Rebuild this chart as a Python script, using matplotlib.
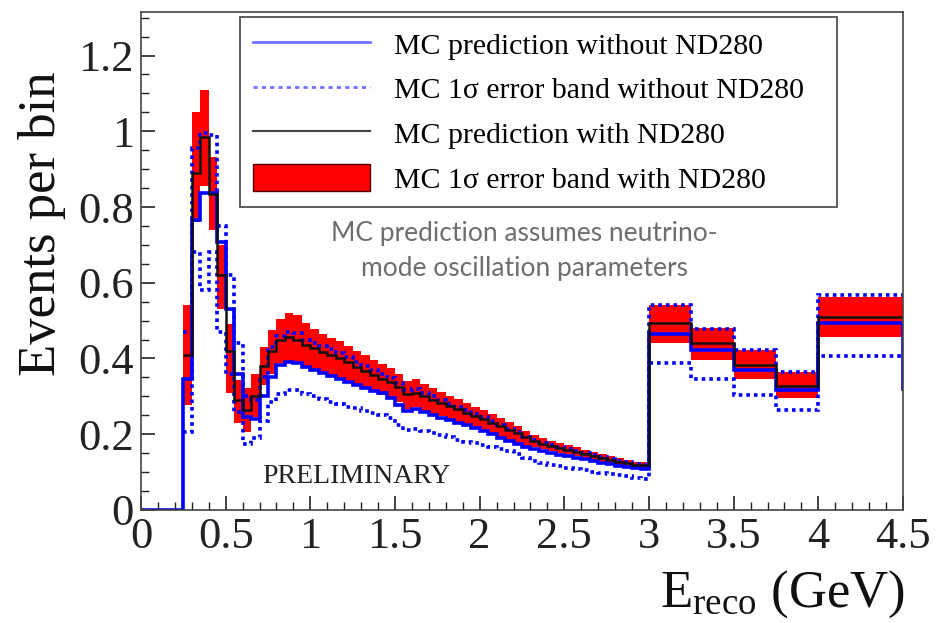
import numpy as np
import matplotlib
matplotlib.use("Agg")
import matplotlib.pyplot as plt
from matplotlib.lines import Line2D
from matplotlib.patches import Patch
from matplotlib.ticker import MultipleLocator, FuncFormatter

plt.rcParams['font.family'] = ['Liberation Serif', 'DejaVu Serif']
plt.rcParams['mathtext.fontset'] = 'custom'
plt.rcParams['mathtext.rm'] = 'Liberation Serif'
plt.rcParams['mathtext.it'] = 'Liberation Serif:italic'

# reconstructed energy binning (GeV): 50 MeV bins up to 3 GeV, then wide bins
edges = list(np.round(np.arange(0.25, 3.0001, 0.05), 2)) + [3.25, 3.5, 3.75, 4.0, 4.5]

# MC prediction with ND280 constraint
with_nd = [0.41, 0.89, 0.985, 0.835, 0.62, 0.42, 0.29, 0.265, 0.30, 0.38,
           0.42, 0.449, 0.457, 0.45, 0.435, 0.427, 0.418, 0.409, 0.40, 0.39,
           0.378, 0.367, 0.356, 0.347, 0.337, 0.325, 0.305, 0.31, 0.30, 0.291,
           0.282, 0.274, 0.266, 0.257, 0.248, 0.24, 0.231, 0.221, 0.212, 0.202,
           0.192, 0.182, 0.175, 0.169, 0.164, 0.159, 0.154, 0.148, 0.142, 0.137,
           0.133, 0.128, 0.124, 0.12, 0.118,
           0.493, 0.44, 0.383, 0.327, 0.51]
with_nd_hi = [0.541, 1.05, 1.108, 0.932, 0.70, 0.49, 0.343, 0.322, 0.36, 0.43,
              0.475, 0.505, 0.519, 0.515, 0.493, 0.479, 0.466, 0.455, 0.445, 0.433,
              0.42, 0.408, 0.396, 0.386, 0.374, 0.36, 0.34, 0.345, 0.333, 0.322,
              0.312, 0.302, 0.293, 0.283, 0.273, 0.263, 0.253, 0.242, 0.232, 0.221,
              0.209, 0.198, 0.19, 0.183, 0.177, 0.171, 0.165, 0.159, 0.152, 0.147,
              0.142, 0.137, 0.132, 0.128, 0.126,
              0.54, 0.48, 0.422, 0.365, 0.563]
with_nd_lo = [0.277, 0.76, 0.855, 0.739, 0.53, 0.31, 0.23, 0.206, 0.245, 0.33,
              0.358, 0.389, 0.394, 0.389, 0.377, 0.371, 0.362, 0.354, 0.347, 0.339,
              0.33, 0.321, 0.312, 0.304, 0.294, 0.284, 0.267, 0.271, 0.262, 0.254,
              0.247, 0.24, 0.232, 0.226, 0.219, 0.211, 0.203, 0.194, 0.186, 0.178,
              0.17, 0.167, 0.161, 0.155, 0.151, 0.147, 0.143, 0.138, 0.132, 0.128,
              0.124, 0.12, 0.116, 0.113, 0.111,
              0.44, 0.396, 0.345, 0.295, 0.457]

# MC prediction without ND280 constraint
no_nd = [0.347, 0.765, 0.836, 0.836, 0.708, 0.53, 0.36, 0.245, 0.24, 0.30,
         0.35, 0.383, 0.391, 0.387, 0.377, 0.369, 0.361, 0.354, 0.347, 0.339,
         0.33, 0.323, 0.314, 0.308, 0.295, 0.278, 0.262, 0.266, 0.258, 0.25,
         0.243, 0.237, 0.23, 0.224, 0.217, 0.209, 0.20, 0.19, 0.181, 0.173,
         0.165, 0.16, 0.155, 0.15, 0.146, 0.142, 0.138, 0.134, 0.129, 0.124,
         0.121, 0.117, 0.113, 0.11, 0.108,
         0.466, 0.422, 0.369, 0.318, 0.493]
no_nd_overflow = 0.32
no_nd_hi = [0.47, 0.955, 0.995, 0.99, 0.75, 0.62, 0.44, 0.30, 0.29, 0.35,
            0.43, 0.46, 0.47, 0.468, 0.45, 0.442, 0.433, 0.424, 0.414, 0.404,
            0.392, 0.38, 0.369, 0.359, 0.348, 0.335, 0.316, 0.32, 0.31, 0.30,
            0.29, 0.281, 0.272, 0.263, 0.254, 0.245, 0.235, 0.225, 0.215, 0.205,
            0.194, 0.185, 0.178, 0.172, 0.166, 0.161, 0.156, 0.15, 0.144, 0.139,
            0.134, 0.13, 0.126, 0.122, 0.12,
            0.541, 0.479, 0.422, 0.365, 0.567]
no_nd_lo = [0.205, 0.68, 0.58, 0.68, 0.47, 0.36, 0.26, 0.175, 0.19, 0.235,
            0.285, 0.305, 0.318, 0.318, 0.305, 0.30, 0.293, 0.286, 0.28, 0.273,
            0.268, 0.262, 0.255, 0.25, 0.242, 0.225, 0.21, 0.213, 0.208, 0.203,
            0.198, 0.192, 0.186, 0.18, 0.177, 0.172, 0.167, 0.162, 0.155, 0.148,
            0.138, 0.13, 0.125, 0.12, 0.116, 0.112, 0.108, 0.105, 0.101, 0.098,
            0.095, 0.092, 0.089, 0.085, 0.081,
            0.387, 0.346, 0.303, 0.264, 0.406]

labels = ['MC prediction without ND280',
          'MC 1\u03c3 error band without ND280',
          'MC prediction with ND280',
          'MC 1\u03c3 error band with ND280']

fig = plt.figure(figsize=(9.48, 6.23), dpi=100)
ax = fig.add_axes([0.1487, 0.1814, 0.8038, 0.7994])

blue = '#0000ff'
dots = (0, (1.0, 1.1))

ax.stairs(with_nd_hi, edges, baseline=with_nd_lo, fill=True, color='#ff0000', lw=0)
ax.stairs(no_nd_hi, edges, baseline=None, color=blue, lw=2.6, ls=dots)
ax.stairs(no_nd_lo, edges, baseline=None, color=blue, lw=2.6, ls=dots)
ax.stairs([0.0] + no_nd + [no_nd_overflow], [0.0] + edges + [4.75],
          baseline=None, color=blue, lw=2.6)
ax.stairs(with_nd, edges, baseline=None, color='#111111', lw=1.8)

ax.set_xlim(0, 4.5)
ax.set_ylim(0, 1.315)

ax.xaxis.set_major_locator(MultipleLocator(0.5))
ax.xaxis.set_minor_locator(MultipleLocator(0.1))
ax.yaxis.set_major_locator(MultipleLocator(0.2))
ax.yaxis.set_minor_locator(MultipleLocator(0.05))
fmt = FuncFormatter(lambda v, p: '%g' % round(v, 2))
ax.xaxis.set_major_formatter(fmt)
ax.yaxis.set_major_formatter(fmt)
ax.tick_params(which='both', direction='in', labelsize=32, colors='#222222',
               top=False, right=False)
ax.tick_params(which='major', length=10, width=1.2)
ax.tick_params(which='minor', length=6, width=1.0)
ax.tick_params(axis='x', pad=5)
ax.tick_params(axis='y', pad=5)
for s in ax.spines.values():
    s.set_color('#444444')
    s.set_linewidth(1.2)

fig.text(42 / 948, 1 - 224 / 623, 'Events per bin', rotation=90,
         ha='center', va='center', fontsize=38, color='#111111')
fig.text(905 / 948, 1 - 607 / 623, r'E$_{\mathrm{reco}}$ (GeV)',
         ha='right', va='baseline', fontsize=38, color='#111111')

ax.text(0.159, 0.054, 'PRELIMINARY', transform=ax.transAxes,
        fontsize=20, color='#222222', ha='left', va='baseline')
ax.text(0.503, 0.521, 'MC prediction assumes neutrino-\nmode oscillation parameters',
        transform=ax.transAxes, ha='center', va='center', fontsize=19,
        family=['Lato', 'DejaVu Sans'], color='#6e6e6e', linespacing=1.5)

handles = [Line2D([], [], color='#7070ff', lw=2),
           Line2D([], [], color='#7070ff', lw=2, ls=(0, (1.5, 1.5))),
           Line2D([], [], color='#444444', lw=1.5),
           Patch(facecolor='#ff0000', edgecolor='#550000', lw=1)]
leg = ax.legend(handles, labels, loc='upper left',
                bbox_to_anchor=(0.13, 0.99, 0.783, 0.0), mode='expand',
                fontsize=21.5, frameon=True, fancybox=False, framealpha=1,
                edgecolor='#444444', handlelength=3.9, handleheight=1.0,
                labelspacing=0.5, borderpad=0.45, handletextpad=0.8,
                borderaxespad=0)
leg.get_frame().set_linewidth(1.2)

fig.savefig('out.png', dpi=100)
